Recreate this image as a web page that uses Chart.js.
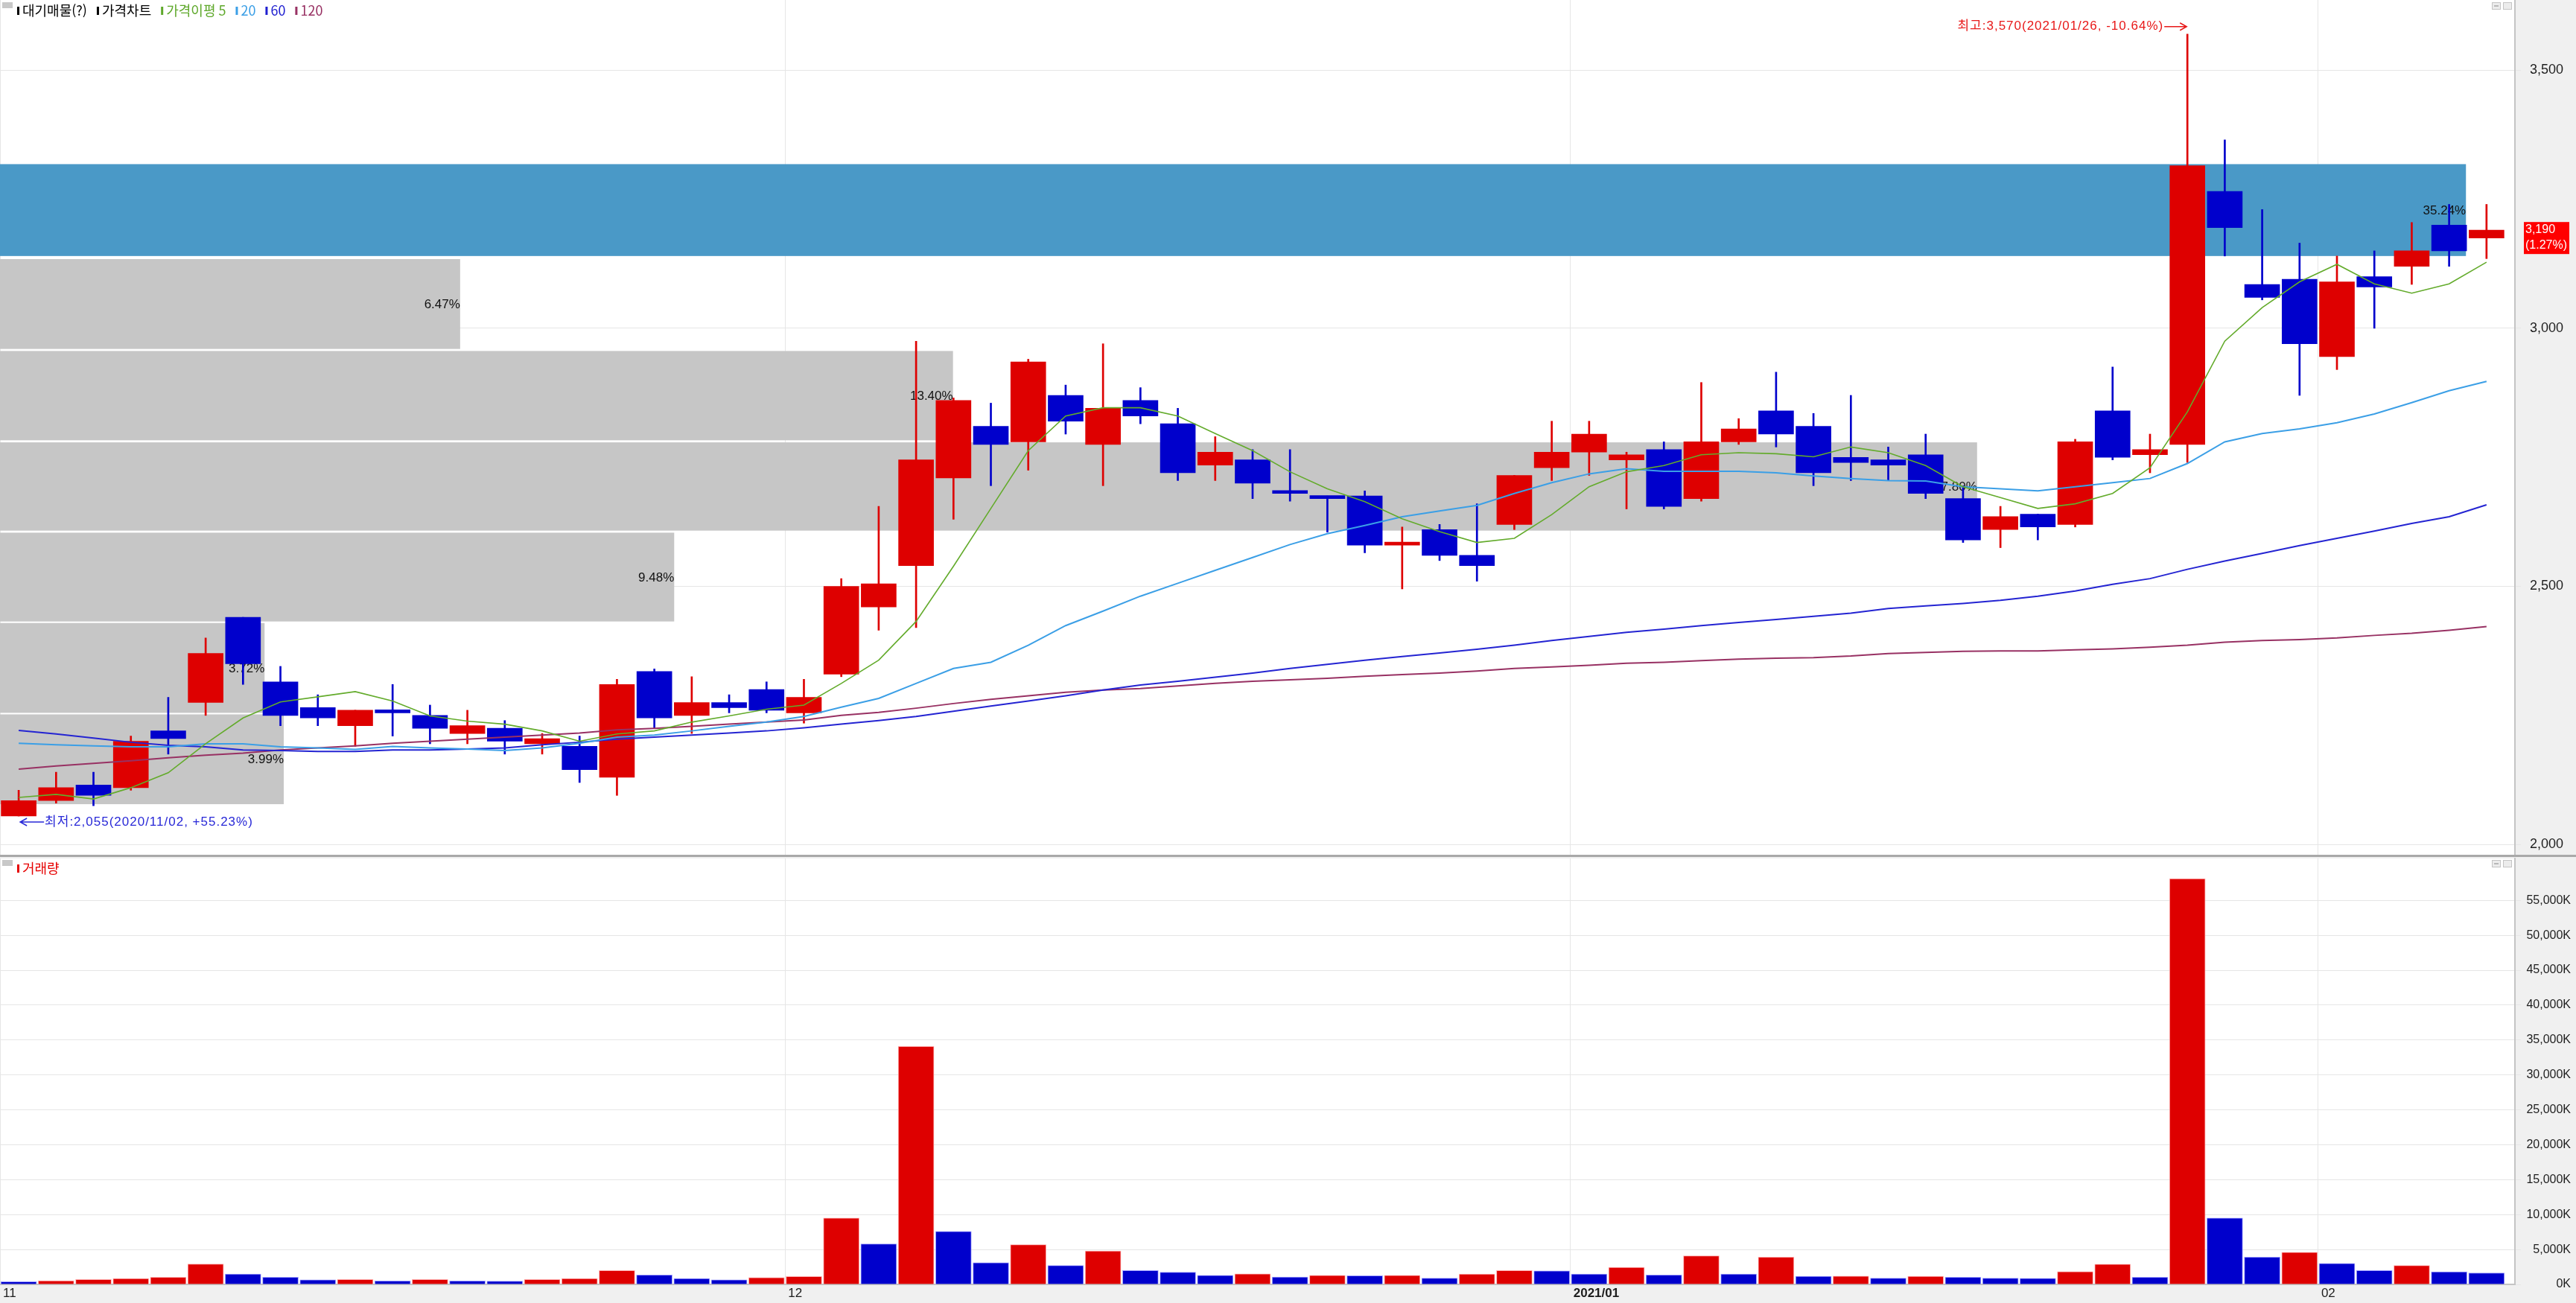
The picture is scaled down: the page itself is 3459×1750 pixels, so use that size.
<!DOCTYPE html>
<html lang="ko">
<head>
<meta charset="utf-8">
<title>대기매물 · 가격차트 · 거래량</title>
<script src="https://cdn.jsdelivr.net/npm/chart.js@4.4.1/dist/chart.umd.min.js"></script>
<style>
  html, body { margin: 0; padding: 0; background: #f0f0f0; }
  body { width: 3459px; height: 1750px; position: relative; overflow: hidden; }
  #price { position: absolute; left: 0; top: 0; }
  #sep { position: absolute; left: 0; top: 1148px; width: 3459px; height: 3px; background: #a9a9a9; }
  #volume { position: absolute; left: 0; top: 1151px; }
</style>
</head>
<body>
<canvas id="price" width="3459" height="1148"></canvas>
<div id="sep"></div>
<canvas id="volume" width="3459" height="599"></canvas>
<script>
// 일봉 2020/11/02 ~ 2021/02/05 (67 거래일)
const opens = [2055, 2085, 2115, 2110, 2220, 2275, 2440, 2315, 2265, 2230,
  2260, 2250, 2215, 2225, 2195, 2190, 2130, 2335, 2250, 2275,
  2300, 2255, 2330, 2460, 2540, 2710, 2810, 2780, 2870, 2775,
  2860, 2815, 2735, 2745, 2680, 2670, 2675, 2580, 2610, 2560,
  2620, 2730, 2760, 2745, 2765, 2670, 2780, 2840, 2810, 2750,
  2745, 2755, 2670, 2610, 2640, 2620, 2840, 2755, 2775, 3265,
  3085, 3095, 2945, 3100, 3120, 3200, 3175];
const highs = [2105, 2140, 2140, 2210, 2285, 2400, 2440, 2345, 2290, 2260,
  2310, 2270, 2260, 2240, 2215, 2210, 2320, 2340, 2325, 2290,
  2315, 2320, 2515, 2655, 2975, 2865, 2855, 2940, 2890, 2970,
  2885, 2845, 2790, 2765, 2765, 2675, 2685, 2615, 2620, 2660,
  2715, 2820, 2820, 2760, 2780, 2895, 2825, 2915, 2835, 2870,
  2770, 2795, 2695, 2655, 2640, 2785, 2925, 2795, 3570, 3365,
  3230, 3165, 3140, 3150, 3205, 3240, 3240];
const lows = [2055, 2080, 2075, 2105, 2175, 2250, 2310, 2230, 2230, 2190,
  2210, 2195, 2195, 2175, 2175, 2120, 2095, 2225, 2215, 2255,
  2255, 2235, 2325, 2415, 2420, 2630, 2695, 2725, 2795, 2695,
  2815, 2705, 2705, 2670, 2665, 2605, 2565, 2495, 2550, 2510,
  2610, 2705, 2715, 2650, 2650, 2665, 2775, 2770, 2695, 2705,
  2705, 2670, 2585, 2575, 2590, 2615, 2745, 2720, 2740, 3140,
  3055, 2870, 2920, 3000, 3085, 3120, 3135];
const closes = [2085, 2110, 2095, 2200, 2205, 2370, 2350, 2250, 2245, 2260,
  2255, 2225, 2230, 2200, 2205, 2145, 2310, 2245, 2275, 2265,
  2260, 2285, 2500, 2505, 2745, 2860, 2775, 2935, 2820, 2845,
  2830, 2720, 2760, 2700, 2680, 2670, 2580, 2585, 2560, 2540,
  2715, 2760, 2795, 2755, 2655, 2780, 2805, 2795, 2720, 2740,
  2735, 2680, 2590, 2635, 2615, 2780, 2750, 2765, 3315, 3195,
  3060, 2970, 3090, 3080, 3150, 3150, 3190];

// 거래량 (천주, K)
const volumes = [390, 530, 710, 850, 1030, 2930, 1490, 1030, 670, 710,
  500, 710, 500, 460, 710, 850, 1990, 1350, 850, 670,
  990, 1130, 9500, 5800, 34100, 7600, 3100, 5700, 2700, 4800,
  2000, 1760, 1300, 1500, 1050, 1300, 1250, 1300, 890, 1490,
  1990, 1950, 1490, 2450, 1350, 4100, 1490, 3900, 1170, 1180,
  890, 1170, 1030, 900, 880, 1840, 2900, 1030, 58100, 9500,
  3900, 4600, 3000, 2000, 2700, 1800, 1650];

// 가격이평 (화면에서 읽은 값)
const ma5 = [2091, 2097, 2088, 2110, 2139, 2195, 2245, 2276, 2286, 2296,
  2278, 2249, 2239, 2233, 2220, 2200, 2214, 2220, 2237, 2249,
  2262, 2270, 2312, 2357, 2432, 2539, 2651, 2763, 2830, 2846,
  2846, 2830, 2796, 2763, 2722, 2689, 2664, 2631, 2606, 2585,
  2593, 2639, 2693, 2722, 2734, 2755, 2759, 2757, 2751, 2770,
  2759, 2734, 2693, 2672, 2651, 2660, 2680, 2730, 2838, 2975,
  3040, 3090, 3124, 3086, 3068, 3086, 3128];
const ma20 = [2196, 2193, 2191, 2189, 2189, 2195, 2195, 2189, 2187, 2184,
  2190, 2187, 2185, 2182, 2187, 2196, 2208, 2212, 2220, 2229,
  2237, 2248, 2266, 2283, 2312, 2341, 2353, 2386, 2424, 2452,
  2481, 2506, 2531, 2556, 2581, 2602, 2618, 2635, 2646, 2657,
  2680, 2701, 2718, 2728, 2723, 2723, 2723, 2720, 2714, 2709,
  2705, 2704, 2693, 2689, 2685, 2693, 2701, 2709, 2738, 2780,
  2796, 2805, 2817, 2834, 2856, 2879, 2897];
const ma60 = [2221, 2214, 2206, 2198, 2192, 2189, 2183, 2182, 2180, 2180,
  2183, 2183, 2185, 2187, 2193, 2198, 2204, 2208, 2212, 2216,
  2220, 2226, 2233, 2240, 2248, 2258, 2268, 2278, 2288, 2299,
  2309, 2316, 2324, 2332, 2341, 2349, 2357, 2364, 2371, 2378,
  2386, 2395, 2403, 2411, 2417, 2424, 2430, 2436, 2442, 2448,
  2457, 2462, 2467, 2473, 2481, 2491, 2504, 2515, 2533, 2549,
  2564, 2579, 2593, 2607, 2622, 2635, 2658];
const ma120 = [2146, 2152, 2157, 2162, 2168, 2173, 2177, 2183, 2187, 2191,
  2196, 2200, 2204, 2208, 2212, 2216, 2222, 2225, 2229, 2233,
  2237, 2241, 2250, 2256, 2264, 2273, 2281, 2288, 2295, 2299,
  2302, 2307, 2312, 2316, 2319, 2322, 2326, 2329, 2332, 2336,
  2341, 2344, 2347, 2351, 2353, 2356, 2359, 2361, 2362, 2365,
  2370, 2372, 2374, 2375, 2375, 2377, 2379, 2382, 2386, 2392,
  2395, 2397, 2400, 2405, 2409, 2415, 2422];

// 대기매물 가격대 (아래부터)
const bandLow = [2078, 2255, 2432, 2608, 2783, 2960, 3140];
const bandHigh = [2252, 2429, 2604, 2779, 2956, 3134, 3318];
const bandPct = [3.99, 3.72, 9.48, 27.80, 13.40, 6.47, 35.24];

// 축
const monthStarts = [-0.5, 20.5, 41.5, 61.5];
const monthLabels = ['11', '12', '2021/01', '02'];
const priceTicks = [2000, 2500, 3000, 3500];
const volumeTicks = [0, 5000, 10000, 15000, 20000, 25000, 30000, 35000, 40000, 45000, 50000, 55000];
const hiDate = '2021/01/26';
const loDate = '2020/11/02';

const X_MIN = -0.5, X_MAX = 66.76;
const UP = 'rgb(222,0,0)', DOWN = 'rgb(0,0,204)';
const GRID = '#e6e6e6';
const FONT = '"Liberation Sans", "Noto Sans CJK KR", sans-serif';
const KFONT = '"Noto Sans CJK KR", "Liberation Sans", sans-serif';

Chart.defaults.font.family = FONT;
Chart.defaults.color = '#1e1e1e';

const fmt = v => v.toLocaleString('en-US');

const candleColors = closes.map((c, i) => {
  if (c > opens[i]) return UP;
  if (c < opens[i]) return DOWN;
  return i > 0 && c < closes[i - 1] ? DOWN : UP;
});
const volColors = volumes.map((v, i) => (i > 0 && v >= volumes[i - 1]) ? UP : DOWN);
const volEdges = volColors.map(c => c === UP ? 'rgb(255,175,175)' : 'rgb(160,160,255)');

function monthGrid(scale) {
  scale.ticks = monthStarts.map(v => ({ value: v }));
}

// y축 라벨 때문에 생기는 위/아래 여백 제거
function fitRightAxis(width) {
  return s => {
    s.width = width;
    s.paddingTop = 0;
    s.paddingBottom = 0;
  };
}

function lineSet(label, values, color, width, order) {
  return {
    type: 'line', label: label,
    data: values.map((v, i) => ({ x: i, y: v })),
    borderColor: color, borderWidth: width,
    pointRadius: 0, tension: 0, order: order
  };
}

const whiteArea = {
  id: 'whiteArea',
  beforeDraw(chart) {
    const { ctx, chartArea: a } = chart;
    ctx.save();
    ctx.fillStyle = '#ffffff';
    ctx.fillRect(a.left, a.top, a.right - a.left, a.bottom - a.top);
    ctx.restore();
  }
};

function smallIcons(ctx, x, y) {
  ctx.save();
  ctx.strokeStyle = '#c4c4c4';
  ctx.fillStyle = '#ececec';
  [0, 15].forEach(dx => {
    ctx.fillRect(x + dx, y, 12, 10);
    ctx.strokeRect(x + dx + 0.5, y + 0.5, 11, 9);
  });
  ctx.fillStyle = '#b8b8b8';
  ctx.fillRect(x + 3, y + 4, 6, 2);
  ctx.restore();
}

function arrow(ctx, from, to, y, color) {
  const d = to > from ? -1 : 1;
  ctx.strokeStyle = color;
  ctx.lineWidth = 1.5;
  ctx.beginPath();
  ctx.moveTo(from, y);
  ctx.lineTo(to, y);
  ctx.moveTo(to + d * 9, y - 5);
  ctx.lineTo(to, y);
  ctx.lineTo(to + d * 9, y + 5);
  ctx.stroke();
}

// 대기매물 막대 + 비율
const bandsPlugin = {
  id: 'bands',
  beforeDatasetsDraw(chart) {
    const { ctx, chartArea: a, scales: { x, y } } = chart;
    const maxPct = Math.max(...bandPct);
    ctx.save();
    ctx.font = '17px ' + FONT;
    ctx.textAlign = 'right';
    ctx.textBaseline = 'middle';
    bandPct.forEach((p, k) => {
      const top = y.getPixelForValue(bandHigh[k]);
      const bottom = y.getPixelForValue(bandLow[k]);
      const right = x.getPixelForValue(Math.min(X_MIN + p * 1.902, 65.45));
      ctx.fillStyle = p === maxPct ? '#4a99c7' : '#c6c6c6';
      ctx.fillRect(a.left, top, right - a.left, bottom - top);
      ctx.fillStyle = '#111';
      ctx.fillText(p.toFixed(2) + '%', right, (top + bottom) / 2 + 1);
    });
    ctx.restore();
  }
};

const pricePlugin = {
  id: 'priceText',
  afterDraw(chart) {
    const { ctx, chartArea: a, scales: { x, y } } = chart;
    const last = closes[closes.length - 1];
    const prev = closes[closes.length - 2];
    const hi = Math.max(...highs), hiIdx = highs.indexOf(hi);
    const lo = Math.min(...lows), loIdx = lows.indexOf(lo);

    ctx.save();
    ctx.beginPath();
    ctx.rect(a.left, a.top, a.right - a.left, a.bottom - a.top);
    ctx.clip();
    ctx.font = '17px ' + FONT;
    ctx.letterSpacing = '1px';
    ctx.textBaseline = 'middle';

    // 최고
    const hx = x.getPixelForValue(hiIdx);
    const hy = y.getPixelForValue(hi) - 10;
    const hiText = '최고:' + fmt(hi) + '(' + hiDate + ', ' + ((last / hi - 1) * 100).toFixed(2) + '%)';
    ctx.fillStyle = 'rgb(232,24,24)';
    ctx.textAlign = 'right';
    ctx.fillText(hiText, hx - 32, hy);
    arrow(ctx, hx - 31, hx - 1, hy, 'rgb(232,24,24)');

    // 최저
    const lx = x.getPixelForValue(loIdx) + 2;
    const ly = y.getPixelForValue(lo) + 8;
    const loText = '최저:' + fmt(lo) + '(' + loDate + ', +' + ((last / lo - 1) * 100).toFixed(2) + '%)';
    ctx.fillStyle = 'rgb(40,40,215)';
    ctx.textAlign = 'left';
    ctx.fillText(loText, lx + 33, ly);
    arrow(ctx, lx + 32, lx, ly, 'rgb(40,40,215)');
    ctx.restore();

    // 현재가 표시
    const py = y.getPixelForValue(last);
    ctx.save();
    ctx.fillStyle = '#ff0000';
    ctx.fillRect(a.right + 12, py - 11, 61, 43);
    ctx.fillStyle = '#ffffff';
    ctx.font = '16px ' + FONT;
    ctx.textAlign = 'left';
    ctx.textBaseline = 'middle';
    ctx.fillText(fmt(last), a.right + 14, py - 1);
    ctx.fillText('(' + ((last / prev - 1) * 100).toFixed(2) + '%)', a.right + 14, py + 20);
    ctx.restore();

    // 범례
    ctx.save();
    ctx.fillStyle = '#c8c8c8';
    ctx.fillRect(3, 3, 14, 8);
    const items = [['대기매물(?)', '#000'], ['가격차트', '#000'], ['가격이평 5', '#5ea82a'],
      ['20', '#3b9fe6'], ['60', '#1f1fd0'], ['120', '#983163']];
    ctx.font = '18px ' + KFONT;
    ctx.textBaseline = 'middle';
    ctx.textAlign = 'left';
    let lxPos = 23;
    items.forEach(([t, c]) => {
      ctx.fillStyle = c;
      ctx.fillRect(lxPos, 9, 3, 11);
      ctx.fillText(t, lxPos + 7, 14);
      lxPos += 7 + ctx.measureText(t).width + 13;
    });
    ctx.restore();

    smallIcons(ctx, a.right - 31, 3);
  }
};

const volumePlugin = {
  id: 'volumeText',
  afterDraw(chart) {
    const { ctx, chartArea: a, scales: { x } } = chart;
    ctx.save();
    ctx.fillStyle = '#1e1e1e';
    ctx.textAlign = 'left';
    ctx.textBaseline = 'middle';
    monthStarts.forEach((v, k) => {
      ctx.font = (monthLabels[k].length > 2 ? 'bold ' : '') + '17px ' + FONT;
      ctx.fillText(monthLabels[k], x.getPixelForValue(v) + 4, a.bottom + 12);
    });
    ctx.fillStyle = '#c8c8c8';
    ctx.fillRect(3, 4, 14, 8);
    ctx.fillStyle = 'rgb(230,0,0)';
    ctx.fillRect(23, 10, 3, 11);
    ctx.font = '18px ' + KFONT;
    ctx.fillText('거래량', 30, 15);
    ctx.restore();
    smallIcons(ctx, a.right - 31, 4);
  }
};

const priceChart = new Chart(document.getElementById('price'), {
  type: 'bar',
  data: {
    datasets: [
      lineSet('가격이평 5', ma5, '#63ab2b', 1.6, 1),
      lineSet('20', ma20, '#3b9fe6', 2, 2),
      lineSet('60', ma60, '#2424d2', 2, 3),
      lineSet('120', ma120, '#983163', 2, 4),
      {
        label: '가격차트',
        data: opens.map((o, i) => ({ x: i, y: [o, closes[i]] })),
        backgroundColor: candleColors,
        barThickness: 47, minBarLength: 4, grouped: false, order: 5
      },
      {
        label: '꼬리',
        data: lows.map((l, i) => ({ x: i, y: [l, highs[i]] })),
        backgroundColor: candleColors,
        barThickness: 2, grouped: false, order: 6
      }
    ]
  },
  options: {
    responsive: false,
    animation: false,
    devicePixelRatio: 1,
    layout: { padding: 0 },
    plugins: { legend: { display: false }, tooltip: { enabled: false } },
    scales: {
      x: {
        type: 'linear', min: X_MIN, max: X_MAX, offset: false,
        afterBuildTicks: monthGrid,
        ticks: { display: false },
        grid: { color: GRID, drawTicks: false, offset: false },
        border: { display: false },
        afterFit: s => { s.height = 0; }
      },
      y: {
        position: 'right', min: 1980, max: 3636,
        afterBuildTicks: s => { s.ticks = priceTicks.map(v => ({ value: v })); },
        ticks: { callback: v => fmt(v), padding: 12, font: { size: 18 } },
        grid: { color: GRID, tickLength: 8 },
        border: { color: '#c4c4c4', width: 2 },
        afterFit: fitRightAxis(82)
      }
    }
  },
  plugins: [whiteArea, bandsPlugin, pricePlugin]
});

const volumeChart = new Chart(document.getElementById('volume'), {
  type: 'bar',
  data: {
    datasets: [{
      label: '거래량',
      data: volumes.map((v, i) => ({ x: i, y: v })),
      backgroundColor: volColors,
      borderColor: volEdges,
      borderWidth: 1,
      barThickness: 48,
      grouped: false
    }]
  },
  options: {
    responsive: false,
    animation: false,
    devicePixelRatio: 1,
    layout: { padding: { top: 2, right: 7 } },
    plugins: { legend: { display: false }, tooltip: { enabled: false } },
    scales: {
      x: {
        type: 'linear', min: X_MIN, max: X_MAX, offset: false,
        afterBuildTicks: monthGrid,
        ticks: { display: false },
        grid: { color: GRID, drawTicks: false, offset: false },
        border: { color: '#c4c4c4', width: 2 },
        afterFit: s => { s.height = 25; }
      },
      y: {
        position: 'right', min: 0, max: 61000,
        afterBuildTicks: s => { s.ticks = volumeTicks.map(v => ({ value: v })); },
        ticks: { callback: v => fmt(v) + 'K', crossAlign: 'far', padding: 6, font: { size: 16 } },
        grid: { color: GRID, tickLength: 8 },
        border: { color: '#c4c4c4', width: 2 },
        afterFit: fitRightAxis(75)
      }
    }
  },
  plugins: [whiteArea, volumePlugin]
});
</script>
</body>
</html>
